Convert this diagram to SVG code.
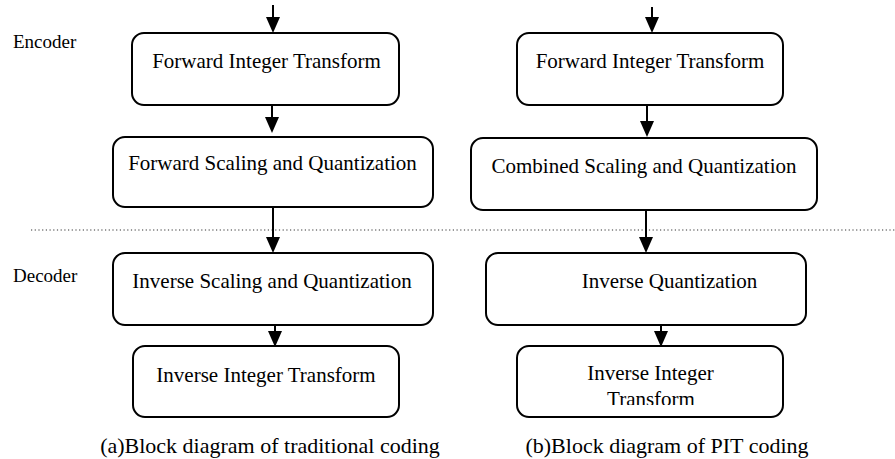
<svg xmlns="http://www.w3.org/2000/svg" width="895" height="459" viewBox="0 0 895 459">
  <style>
    .box { fill: #ffffff; stroke: #000000; stroke-width: 2; }
    .lbl { font-family: "Liberation Serif", "Times New Roman", serif; font-size: 21px; fill: #000000; text-anchor: middle; }
    .side { font-family: "Liberation Serif", "Times New Roman", serif; font-size: 19px; fill: #000000; }
    .cap { font-family: "Liberation Serif", "Times New Roman", serif; font-size: 22px; fill: #000000; text-anchor: middle; }
    .flow { stroke: #000000; stroke-width: 2; fill: none; marker-end: url(#head); }
    .divider { stroke: #333333; stroke-width: 1.2; stroke-dasharray: 1.2 2.5; fill: none; }
  </style>
  <defs>
    <marker id="head" viewBox="0 0 16 14" refX="6" refY="7" markerWidth="16" markerHeight="14" markerUnits="userSpaceOnUse" orient="auto">
      <path d="M0,0 L16,7 L0,14 z" fill="#000000"/>
    </marker>
    <clipPath id="clip-b4">
      <rect x="517" y="346" width="266" height="59"/>
    </clipPath>
  </defs>
  <rect width="895" height="459" fill="#ffffff"/>

  <!-- encoder / decoder split -->
  <line class="divider" x1="31" y1="230" x2="895" y2="230"/>
  <text class="side" x="13" y="48">Encoder</text>
  <text class="side" x="13" y="282">Decoder</text>

  <!-- connectors -->
  <g id="connectors">
    <line class="flow" x1="273" y1="5" x2="273" y2="23"/>
    <line class="flow" x1="272" y1="105" x2="272" y2="123"/>
    <line class="flow" x1="273" y1="207" x2="273" y2="243"/>
    <line class="flow" x1="275" y1="325" x2="275" y2="337"/>
    <line class="flow" x1="652" y1="7" x2="652" y2="23"/>
    <line class="flow" x1="647" y1="105" x2="647" y2="127"/>
    <line class="flow" x1="646" y1="210" x2="646" y2="243"/>
    <line class="flow" x1="661" y1="325" x2="661" y2="337"/>
  </g>

  <!-- (a) traditional coding -->
  <g id="a-forward-transform">
    <rect class="box" x="132" y="33" width="267" height="72" rx="12"/>
    <text class="lbl" x="266.5" y="68">Forward Integer Transform</text>
  </g>
  <g id="a-forward-scaling">
    <rect class="box" x="113" y="137" width="320" height="70" rx="12"/>
    <text class="lbl" x="272.5" y="170">Forward Scaling and Quantization</text>
  </g>
  <g id="a-inverse-scaling">
    <rect class="box" x="113" y="253" width="320" height="72" rx="12"/>
    <text class="lbl" x="272" y="288">Inverse Scaling and Quantization</text>
  </g>
  <g id="a-inverse-transform">
    <rect class="box" x="133" y="346" width="266" height="71" rx="12"/>
    <text class="lbl" x="266" y="382">Inverse Integer Transform</text>
  </g>

  <!-- (b) PIT coding -->
  <g id="b-forward-transform">
    <rect class="box" x="517" y="33" width="266" height="72" rx="12"/>
    <text class="lbl" x="650" y="68">Forward Integer Transform</text>
  </g>
  <g id="b-combined-scaling">
    <rect class="box" x="471" y="138" width="346" height="72" rx="12"/>
    <text class="lbl" x="644" y="173">Combined Scaling and Quantization</text>
  </g>
  <g id="b-inverse-quant">
    <rect class="box" x="486" y="253" width="320" height="72" rx="12"/>
    <text class="lbl" x="669.5" y="288">Inverse Quantization</text>
  </g>
  <g id="b-inverse-transform">
    <rect class="box" x="517" y="346" width="266" height="71" rx="12"/>
    <g clip-path="url(#clip-b4)">
      <text class="lbl" x="650.5" y="380">Inverse Integer</text>
      <text class="lbl" x="651" y="406">Transform</text>
    </g>
  </g>

  <!-- captions -->
  <text class="cap" x="270" y="453">(a)Block diagram of traditional coding</text>
  <text class="cap" x="667" y="453">(b)Block diagram of PIT coding</text>
</svg>
